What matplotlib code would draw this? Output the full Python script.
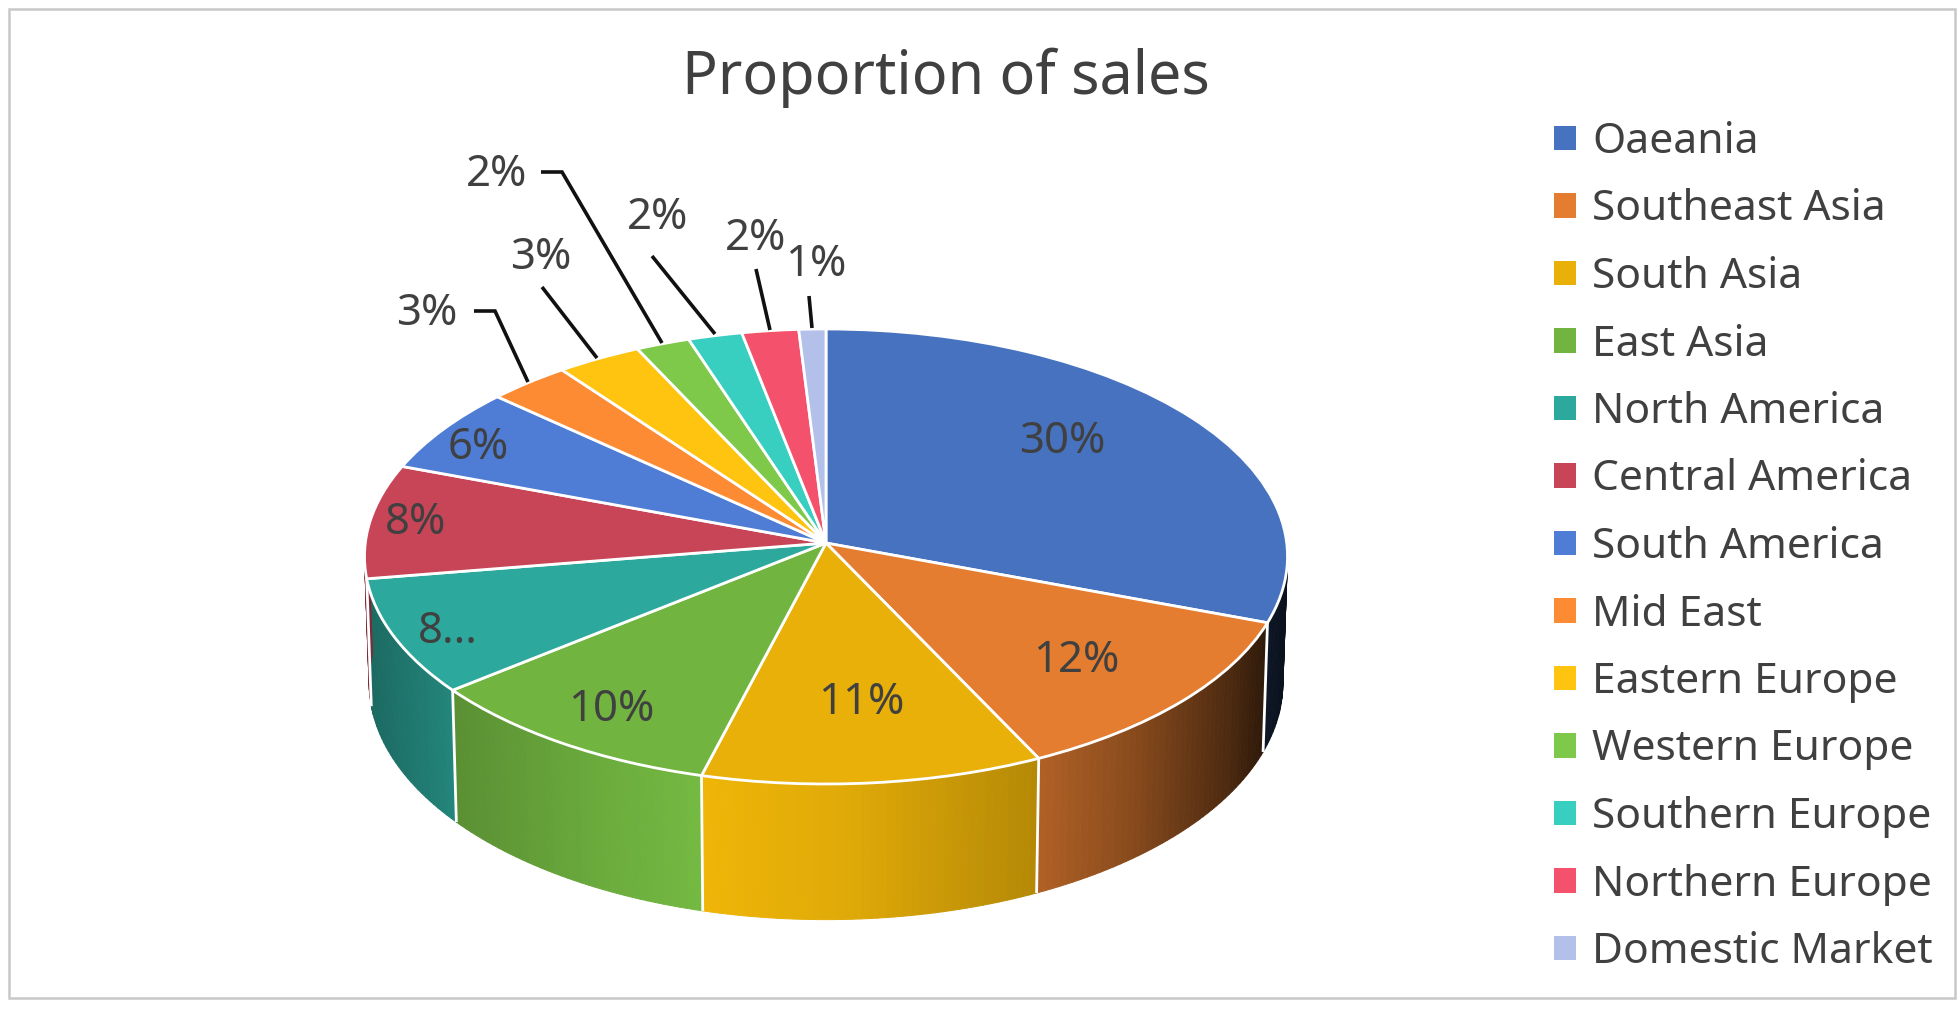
import numpy as np
import matplotlib
matplotlib.use("Agg")
import matplotlib.pyplot as plt
from matplotlib.patches import Patch, Rectangle
from matplotlib.collections import PolyCollection
from matplotlib.transforms import Transform

title = "Proportion of sales"
regions = ["Oaeania", "Southeast Asia", "South Asia", "East Asia", "North America",
           "Central America", "South America", "Mid East", "Eastern Europe",
           "Western Europe", "Southern Europe", "Northern Europe", "Domestic Market"]
shares = [30.6, 12.2, 11.3, 10.15, 8.25, 8.1, 6.1, 3.05, 3.15, 2.0, 2.0, 2.1, 1.0]
share_labels = ["30%", "12%", "11%", "10%", "8...", "8%", "6%", "3%", "3%", "2%", "2%", "2%", "1%"]
colors = ["#4672C0", "#E47D30", "#E8B008", "#71B440", "#2CA99C", "#C84558", "#4F7DD6",
          "#FD8B33", "#FFC40F", "#7EC94A", "#38CEC0", "#F4526C", "#B3C0EA"]

# layout (pixels of the 1960x1031 canvas)
label_xy = [(1062, 442), (1076, 661), (861, 703), (611, 710), (448, 632), (416, 523), (478, 448),
            (427, 314), (541, 258), (497, 175), (658, 218), (756, 239), (816, 265)]
leaders = {7: [(474, 311), (495, 311), (528, 382)],
           8: [(542, 287), (597, 358)],
           9: [(541, 172), (562, 172), (662, 343)],
           10: [(652, 256), (715, 334)],
           11: [(756, 269), (770, 330)],
           12: [(809, 296), (812, 328)]}
CX, CY, RX, RY, K = 826.0, 543.0, 460.7, 226.7, 0.0593
TEXT = "#404040"
plt.rcParams["font.family"] = ["Noto Sans", "DejaVu Sans"]


def project(X, Y, z=0.0):
    """Unit-disc coordinates to canvas pixels; z=1 is the lower rim of the wall."""
    w = 1 + K * Y
    sy = RY * Y / w
    return CX + RX * X / w * (1 - 0.01 * z), CY - sy + z * (126 - 0.04 * sy)


class Perspective(Transform):
    input_dims = 2
    output_dims = 2
    is_separable = False
    has_inverse = False

    def transform_non_affine(self, values):
        values = np.asarray(values)
        x, y = project(values[:, 0], values[:, 1])
        return np.column_stack([x, y])


def wall_shade(x):
    return np.interp(x, [365, 456, 600, 702, 850, 1036, 1133, 1233, 1267, 1288],
                     [.62, .80, .95, 1.03, .96, .78, .60, .33, .20, .15])


fig = plt.figure(figsize=(19.6, 10.31), dpi=100, facecolor="white")
ax = fig.add_axes([0, 0, 1, 1])
wedges, _ = ax.pie(shares, colors=colors, startangle=90, counterclock=False,
                   wedgeprops=dict(edgecolor="white", linewidth=2.0, joinstyle="round"))
ax.set_aspect("auto")
ax.set_xlim(0, 1960)
ax.set_ylim(1031, 0)
ax.axis("off")

tr = Perspective() + ax.transData
for w in wedges:
    w.set_transform(tr)
    w.set_zorder(3)
    w.set_clip_on(False)

# side wall, strip by strip
edges = np.concatenate([[0], np.cumsum(shares)]) / np.sum(shares) * 2 * np.pi
for i, col in enumerate(colors):
    a0, a1 = edges[i], edges[i + 1]
    n = max(2, int(np.degrees(a1 - a0)) + 1)
    ts = np.linspace(a0, a1, n + 1)
    polys, faces = [], []
    base = np.array(matplotlib.colors.to_rgb(col))
    for t0, t1 in zip(ts[:-1], ts[1:]):
        if np.cos(t0) > 0.06 and np.cos(t1) > 0.06:
            continue
        x0, y0 = project(np.sin(t0), np.cos(t0))
        x1, y1 = project(np.sin(t1), np.cos(t1))
        x2, y2 = project(np.sin(t1), np.cos(t1), 1)
        x3, y3 = project(np.sin(t0), np.cos(t0), 1)
        polys.append([(x0, y0), (x1, y1), (x2, y2), (x3, y3)])
        faces.append(np.clip(base * wall_shade((x0 + x1) / 2), 0, 1))
    if polys:
        ax.add_collection(PolyCollection(polys, facecolors=faces, edgecolors=faces,
                                         linewidths=0.7, zorder=1))
    t = a1
    if np.cos(t) < 0:
        xa, ya = project(np.sin(t), np.cos(t))
        xb, yb = project(np.sin(t), np.cos(t), 1)
        ax.plot([xa, xb], [ya, yb], color="white", lw=2.0, zorder=2, solid_capstyle="butt")

for i, pts in leaders.items():
    ax.plot(*zip(*pts), color="#111111", lw=2.6, zorder=4, solid_capstyle="butt", solid_joinstyle="miter")
for (x, y), s in zip(label_xy, share_labels):
    ax.text(x, y, s, fontsize=31.5, color=TEXT, ha="center", va="center", zorder=5)

ax.text(946, 78, title, fontsize=42.7, color=TEXT, ha="center", va="center", zorder=5)
ax.add_patch(Rectangle((8.5, 8.5), 1946, 989.5, fill=False, edgecolor="#C8C8C8", lw=1.8, zorder=0, clip_on=False))

handles = [Patch(facecolor=c, edgecolor="none") for c in colors]
leg = ax.legend(handles, regions, loc="upper left", bbox_to_anchor=(1554 / 1960, 1 - 121 / 1031),
                bbox_transform=fig.transFigure, frameon=False, borderpad=0, borderaxespad=0,
                fontsize=30.6, labelspacing=0.60, handlelength=0.52, handleheight=0.52,
                handletextpad=0.38, labelcolor=TEXT)
fig.savefig("out.png", dpi=100)
